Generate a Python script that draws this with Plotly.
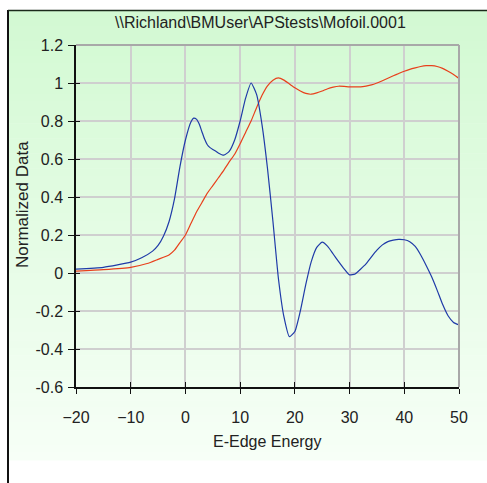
import plotly.graph_objects as go

# ---- data ----
blue_x = [-20, -15, -10, -8, -6, -5, -4, -3, -2, -1, 0, 1, 1.5, 2, 2.5, 3, 3.5, 4, 4.5, 5, 5.5, 6, 7, 8, 9, 10,
          11, 12, 13, 14, 15, 16, 17, 18, 19, 20, 21, 22, 23, 24, 25, 26, 27, 28, 29, 30,
          31, 32, 33, 34, 35, 36, 37, 38, 39, 40, 41, 42, 43, 44, 45, 46, 47, 48, 49, 50]
blue_y = [0.02, 0.03, 0.057, 0.08, 0.115, 0.145, 0.195, 0.27, 0.39, 0.56, 0.70, 0.795, 0.815, 0.81, 0.785,
          0.745, 0.705, 0.675, 0.66, 0.65, 0.642, 0.632, 0.62, 0.64, 0.70, 0.80, 0.92, 1.0, 0.94, 0.78, 0.55,
          0.27, -0.03, -0.23, -0.335, -0.308, -0.20, -0.06, 0.06, 0.135, 0.162, 0.14, 0.10, 0.06, 0.022, -0.01,
          -0.005, 0.02, 0.048, 0.085, 0.12, 0.148, 0.165, 0.173, 0.177, 0.175, 0.165, 0.14, 0.095,
          0.04, -0.02, -0.09, -0.165, -0.225, -0.26, -0.273]

red_x = [-20, -15, -10, -7, -5, -3, -2, -1, 0, 1, 2, 3, 4, 5, 6, 7, 8, 9, 10, 11, 12, 13, 14, 15,
         16, 17, 18, 19, 20, 21, 22, 23, 24, 25, 26, 27, 28, 29, 30, 31, 32, 33, 34, 35, 36, 37,
         38, 39, 40, 41, 42, 43, 44, 45, 46, 47, 48, 49, 50]
red_y = [0.01, 0.018, 0.03, 0.05, 0.072, 0.095, 0.12, 0.16, 0.20, 0.26, 0.32, 0.37, 0.42, 0.46,
         0.50, 0.54, 0.585, 0.625, 0.68, 0.74, 0.80, 0.87, 0.935, 0.985, 1.015, 1.027, 1.015,
         0.995, 0.975, 0.958, 0.945, 0.941, 0.948, 0.958, 0.97, 0.978, 0.983, 0.982, 0.98, 0.98,
         0.98, 0.984, 0.99, 1.0, 1.012, 1.025, 1.038, 1.05, 1.062, 1.072, 1.08, 1.087, 1.091,
         1.091, 1.087, 1.077, 1.062, 1.045, 1.024]

x_ticks = [-20, -10, 0, 10, 20, 30, 40, 50]
y_ticks = [1.2, 1.0, 0.8, 0.6, 0.4, 0.2, 0.0, -0.2, -0.4, -0.6]
y_labels = ["1.2", "1", "0.8", "0.6", "0.4", "0.2", "0", "-0.2", "-0.4", "-0.6"]

title_text = "\\\\Richland\\BMUser\\APStests\\Mofoil.0001"
x_title = "E-Edge Energy"
y_title = "Normalized Data"

# ---- layout geometry (pixels) ----
W, H = 487, 483
L, R, T, B = 76, 459, 45, 387
pw, ph = R - L, B - T


def px(xp):
    return (xp - L) / pw


def py(yp):
    return (B - yp) / ph


FONT = "Liberation Sans"

fig = go.Figure()
fig.add_trace(go.Scatter(x=red_x, y=red_y, mode="lines",
                         line=dict(color="#e8401c", width=1.2, shape="spline", smoothing=0.5),
                         hoverinfo="skip", showlegend=False))
fig.add_trace(go.Scatter(x=blue_x, y=blue_y, mode="lines",
                         line=dict(color="#1f3aa8", width=1.2, shape="spline", smoothing=0.5),
                         hoverinfo="skip", showlegend=False))
# invisible trace for inner-tick overlay axes
fig.add_trace(go.Scatter(x=[-20], y=[0], mode="markers", marker=dict(opacity=0), xaxis="x2", yaxis="y2",
                         hoverinfo="skip", showlegend=False))

# gradient background
shapes = []
top, bottom = 11, 460
n = 60
c0 = (210, 249, 210)
c1 = (247, 255, 247)
for i in range(n):
    y0 = top + (bottom - top) * i / n
    y1 = top + (bottom - top) * (i + 1) / n + 0.6
    f = (i + 0.5) / n
    col = tuple(round(c0[k] + (c1[k] - c0[k]) * f) for k in range(3))
    shapes.append(dict(type="rect", xref="paper", yref="paper", x0=px(9), x1=px(W + 2), y0=py(y1), y1=py(y0),
                       fillcolor="rgb(%d,%d,%d)" % col, line=dict(width=0), layer="below"))
# outer frame
shapes.append(dict(type="line", xref="paper", yref="paper", x0=px(8), x1=px(8), y0=py(10), y1=py(H + 5),
                   line=dict(color="#111111", width=2), layer="above"))
shapes.append(dict(type="line", xref="paper", yref="paper", x0=px(8), x1=px(W + 5), y0=py(10.5), y1=py(10.5),
                   line=dict(color="#1a2a1a", width=1.5), layer="above"))
# plot border top/right
shapes.append(dict(type="line", xref="paper", yref="paper", x0=0, x1=1, y0=1, y1=1,
                   line=dict(color="#a8a8a8", width=2), layer="above"))
shapes.append(dict(type="line", xref="paper", yref="paper", x0=1, x1=1, y0=0, y1=1,
                   line=dict(color="#a8a8a8", width=2), layer="above"))

annotations = [
    dict(text=title_text, xref="paper", yref="paper", x=px(260), y=py(22), showarrow=False,
         xanchor="center", yanchor="middle", font=dict(family=FONT, size=16, color="#222222")),
    dict(text=x_title, xref="paper", yref="paper", x=px(267), y=py(441), showarrow=False,
         xanchor="center", yanchor="middle", font=dict(family=FONT, size=16, color="#222222")),
    dict(text=y_title, xref="paper", yref="paper", x=px(22), y=py(204), showarrow=False, textangle=-90,
         xanchor="center", yanchor="middle", font=dict(family=FONT, size=17, color="#222222")),
]

fig.update_layout(
    width=W, height=H,
    margin=dict(l=L, r=W - R, t=T, b=H - B, pad=0),
    paper_bgcolor="white",
    plot_bgcolor="rgba(0,0,0,0)",
    shapes=shapes,
    annotations=annotations,
    xaxis=dict(range=[-20, 50], tickvals=x_ticks, ticks="outside", ticklen=5, tickwidth=1.2, tickcolor="#111111",
               showline=True, linecolor="#111111", linewidth=1.5, showgrid=True, gridcolor="#cfcfcf", gridwidth=1.5,
               zeroline=False, ticklabelstandoff=10,
               tickfont=dict(family=FONT, size=16, color="#222222")),
    yaxis=dict(range=[-0.6, 1.2], tickvals=y_ticks, ticktext=y_labels, ticks="outside", ticklen=6, tickwidth=1.2,
               tickcolor="#111111", showline=True, linecolor="#111111", linewidth=1.5, showgrid=True,
               gridcolor="#cfcfcf", gridwidth=1.5, zeroline=False, ticklabelstandoff=2,
               tickfont=dict(family=FONT, size=16, color="#222222")),
    xaxis2=dict(range=[-20, 50], overlaying="x", anchor="y", side="bottom", tickvals=x_ticks, ticks="inside",
                ticklen=5, tickwidth=1.2, tickcolor="#111111", showticklabels=False, showgrid=False,
                showline=False, zeroline=False),
    yaxis2=dict(range=[-0.6, 1.2], overlaying="y", anchor="x", side="left", tickvals=y_ticks, ticks="inside",
                ticklen=4, tickwidth=1.2, tickcolor="#111111", showticklabels=False, showgrid=False,
                showline=False, zeroline=False),
)

fig.write_html("out.html")
